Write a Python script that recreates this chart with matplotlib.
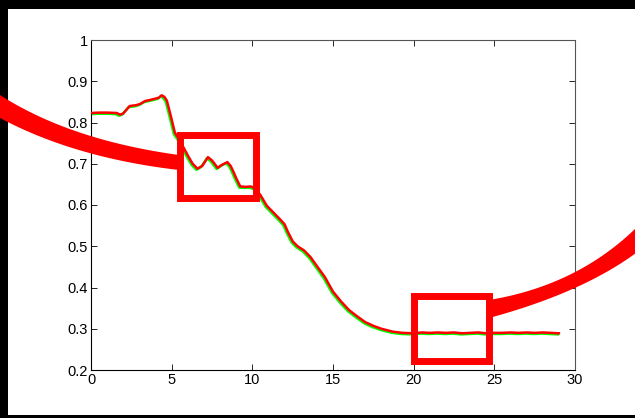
import numpy as np
from matplotlib import pyplot as plt
from matplotlib.patches import Rectangle, Polygon
from matplotlib.transforms import ScaledTranslation

# curve
t = [0, 0.5, 1.0, 1.6, 1.8, 2.0, 2.4, 2.8, 3.05, 3.35, 3.7, 4.0, 4.2, 4.38, 4.55,
     4.7, 4.9, 5.2, 5.5, 5.7, 6.0, 6.3, 6.6, 6.9, 7.25, 7.5, 7.85, 8.1, 8.45, 8.65,
     8.8, 9.0, 9.25, 9.6, 9.9, 10.2, 10.5, 10.9, 11.3, 11.7, 12.0, 12.2, 12.5, 12.8,
     13.2, 13.6, 14.0, 14.5, 15.0, 15.5, 16.0, 16.5, 17.0, 17.5, 18.0, 18.7, 19.3,
     20.0, 20.5, 21.0, 21.5, 22.0, 22.5, 23.0, 23.5, 24.0, 24.5, 25.0, 25.5, 26.0,
     26.5, 27.0, 27.5, 28.0, 28.5, 29.0]
value = [0.823, 0.824, 0.824, 0.823, 0.819, 0.822, 0.840, 0.842, 0.845, 0.852, 0.855,
         0.858, 0.860, 0.866, 0.862, 0.853, 0.823, 0.775, 0.757, 0.742, 0.720, 0.700,
         0.688, 0.695, 0.716, 0.708, 0.690, 0.697, 0.704, 0.695, 0.683, 0.665, 0.645,
         0.644, 0.645, 0.640, 0.624, 0.598, 0.582, 0.566, 0.553, 0.535, 0.512, 0.500,
         0.490, 0.474, 0.452, 0.425, 0.390, 0.366, 0.345, 0.330, 0.316, 0.307, 0.300,
         0.293, 0.290, 0.289, 0.291, 0.290, 0.291, 0.290, 0.291, 0.289, 0.290, 0.291,
         0.289, 0.290, 0.290, 0.291, 0.290, 0.291, 0.290, 0.291, 0.290, 0.289]

xticks = [0, 5, 10, 15, 20, 25, 30]
yticks = [0.2, 0.3, 0.4, 0.5, 0.6, 0.7, 0.8, 0.9, 1]
ytick_labels = ["0.2", "0.3", "0.4", "0.5", "0.6", "0.7", "0.8", "0.9", "1"]

# highlighted regions (x0, x1, y0, y1)
box_a = (5.5, 10.2, 0.616, 0.77)
box_b = (20.0, 24.7, 0.222, 0.379)

W, H = 635, 418
plt.rcParams['font.family'] = ['Liberation Sans', 'DejaVu Sans']

fig = plt.figure(figsize=(W / 100, H / 100), dpi=100)
fig.patch.set_facecolor('black')


def px(x, y):
    return (x / W, 1 - y / H)


# white sheet behind the chart
fig.patches.append(Rectangle(px(8, 415), 1 - 8 / W, (415 - 9) / H, transform=fig.transFigure,
                             facecolor='white', edgecolor='none', zorder=-1))

ax = fig.add_axes([91 / W, (H - 370) / H, (575 - 91) / W, (370 - 40) / H])
ax.set_facecolor('white')

shift = ScaledTranslation(-0.8 / 72, -0.8 / 72, fig.dpi_scale_trans)
ax.plot(t, value, color='#00ff00', lw=1.8, transform=ax.transData + shift, zorder=2)
ax.plot(t, value, color='#ff0000', lw=1.8, zorder=3)

ax.set_xlim(0, 30)
ax.set_ylim(0.2, 1)
ax.set_xticks(xticks)
ax.set_yticks(yticks)
ax.set_yticklabels(ytick_labels)
ax.tick_params(direction='in', length=4.5, width=0.6, top=True, right=True,
               labelsize=10.5, pad=2, colors='black')
for s in ax.spines.values():
    s.set_linewidth(0.8)
ax.spines['top'].set_color('#555555')
ax.spines['right'].set_color('#555555')

for x0, x1, y0, y1 in (box_a, box_b):
    ax.add_patch(Rectangle((x0, y0), x1 - x0, y1 - y0, fill=False, edgecolor='#ff0000',
                           lw=5, clip_on=False, zorder=6, joinstyle='miter'))


def bezier(p0, c, p2, n=40):
    s = np.linspace(0, 1, n)[:, None]
    return (1 - s) ** 2 * np.array(p0) + 2 * (1 - s) * s * np.array(c) + s ** 2 * np.array(p2)


def band(top, bottom):
    pts = np.vstack([bezier(*top), bezier(*bottom)[::-1]])
    pts = np.array([px(x, y) for x, y in pts])
    fig.patches.append(Polygon(pts, closed=True, transform=fig.transFigure,
                               facecolor='#ff0000', edgecolor='none', zorder=5))


band(((0, 95), (70, 140), (179, 155)), ((0, 118), (75, 158), (179, 170)))
band(((489, 300), (580, 285), (640, 224)), ((489, 318), (585, 292), (640, 250)))

fig.savefig('out.png', dpi=100, facecolor=fig.get_facecolor())
